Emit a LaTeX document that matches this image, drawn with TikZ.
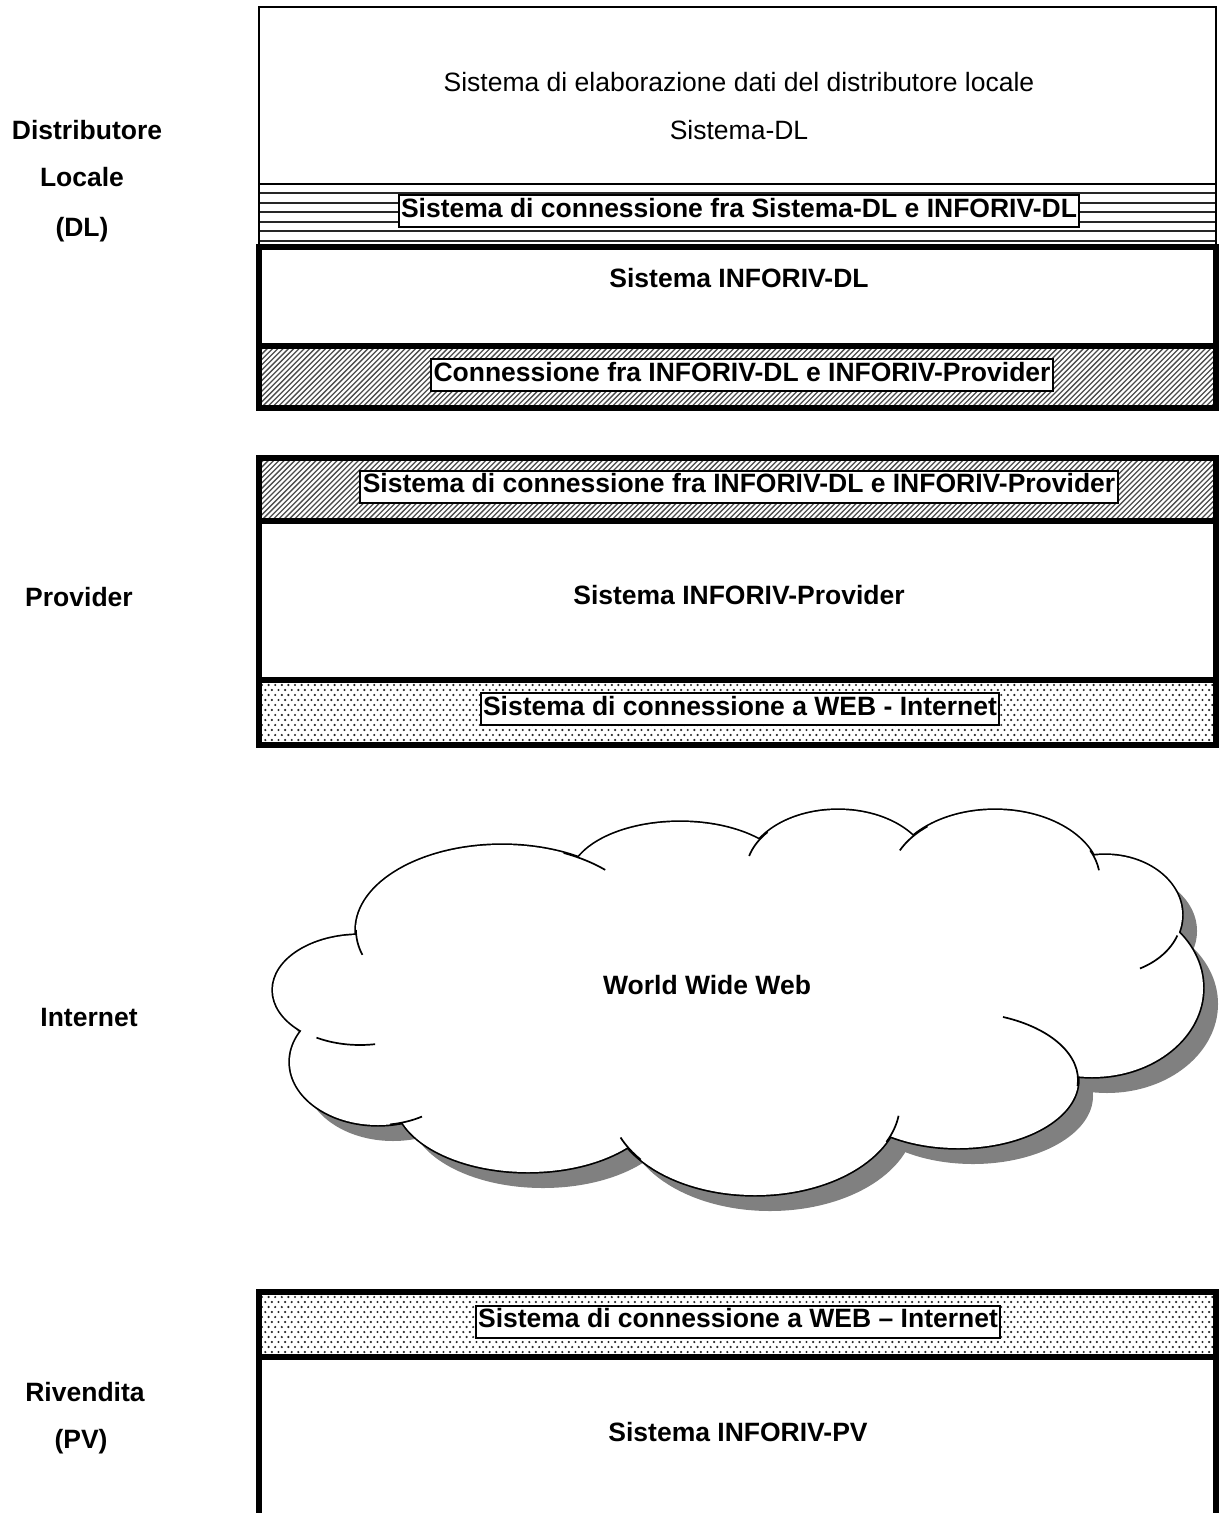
\documentclass[tikz,border=0pt]{standalone}
\usepackage{fontspec}
\setmainfont{Liberation Sans}
\definecolor{shd}{HTML}{808080}
\begin{document}
\begin{tikzpicture}[x=0.5pt,y=-0.5pt,
  fnt/.style={font=\fontsize{13.25pt}{16pt}\selectfont},
  bfnt/.style={font=\fontsize{13.25pt}{16pt}\selectfont\bfseries},
  lab/.style={bfnt, anchor=base, inner sep=0pt},
  plain/.style={fnt, anchor=base, inner sep=0pt},
  tag/.style={bfnt, draw, line width=1pt, fill=white, text height=9.8pt, text depth=3.45pt, inner ysep=1.375pt, inner xsep=1.2pt},
  thinbox/.style={draw, line width=1.1pt},
  thickbox/.style={draw, line width=2.6pt},
  hatchline/.style={line width=0.65pt, black!70},
  hline/.style={line width=1pt, black!85},
  dotc/.style={fill=black!85},
  cloudline/.style={draw=black, line width=1.7pt},
  tailline/.style={draw=black, line width=0.85pt},
]
\useasboundingbox (0,0) rectangle (1220,1513);

% ---------------- Distributore Locale ----------------
% horizontal-lines band
\begin{scope}
  \clip (259,184) rectangle (1216,247);
  \draw[hline] foreach \k in {1,...,6} { (259,184+\k*9.5) -- (1216,184+\k*9.5) };
\end{scope}
\draw[thinbox] (259,7) rectangle (1216,184);
\draw[thinbox] (259,184) rectangle (1216,247);

% hatched band 1
\begin{scope}
  \clip (259,346) rectangle (1216,408);
  \draw[hatchline] foreach \x in {190,195.3,...,1230} { (\x,410) -- ++(66,-66) };
\end{scope}
\draw[thickbox] (259,247) rectangle (1216,346);
\draw[thickbox] (259,346) rectangle (1216,408);

\node[plain] (sysdl1) at (739,91.5) {Sistema di elaborazione dati del distributore locale};
\node[plain] (sysdl2) at (739,139.5) {Sistema-DL};
\node[tag] (conn1) at (739,211) {Sistema di connessione fra Sistema-DL e INFORIV-DL};
\node[lab] (infdl) at (739,287.5) {Sistema INFORIV-DL};
\node[tag] (conn2) at (742,375) {Connessione fra INFORIV-DL e INFORIV-Provider};

% ---------------- Provider ----------------
\begin{scope}
  \clip (259,458) rectangle (1216,521);
  \draw[hatchline] foreach \x in {190,195.3,...,1230} { (\x,523) -- ++(66,-66) };
\end{scope}
\begin{scope}
  \clip (259,680) rectangle (1216,745);
  \fill[dotc] foreach \r in {0,...,11} { foreach \c in {0,...,145} { ({262+\c*6.6+mod(\r,2)*3.3},{685+\r*5}) circle[radius=0.6pt] } };
\end{scope}
\draw[thickbox] (259,458) rectangle (1216,521);
\draw[thickbox] (259,521) rectangle (1216,680);
\draw[thickbox] (259,680) rectangle (1216,745);

\node[tag] (conn3) at (739,486.5) {Sistema di connessione fra INFORIV-DL e INFORIV-Provider};
\node[lab] (infprov) at (739,604.5) {Sistema INFORIV-Provider};
\node[tag] (conn4) at (740,709) {Sistema di connessione a WEB - Internet};

% ---------------- Cloud ----------------
\def\ells{502/930/146/85, 680/880/110/58, 838/872/92/62, 995/880/105/70, 1105/915/77/60, 1092/988/111/89, 958/1080/120/68, 755/1103/145/92, 528/1098/133/74, 378/1062/88/63, 360/990/87/55}
\def\cpoly{(502,930) -- (680,880) -- (838,872) -- (995,880) -- (1105,915) -- (1092,988) -- (958,1080) -- (755,1103) -- (528,1098) -- (378,1062) -- (360,990) -- cycle}
\begin{scope}[shift={(15,16)}]
  \foreach \cx/\cy/\rx/\ry in \ells { \fill[shd] (\cx,\cy) ellipse [x radius=\rx, y radius=\ry]; }
  \fill[shd] \cpoly;
\end{scope}
\foreach \cx/\cy/\rx/\ry in \ells { \path[cloudline] (\cx,\cy) ellipse [x radius=\rx, y radius=\ry]; }
\foreach \cx/\cy/\rx/\ry in \ells { \fill[white] (\cx,\cy) ellipse [x radius=\rx, y radius=\ry]; }
\fill[white] \cpoly;
% inner tails of the cloud arcs
\foreach \cx/\cy/\rx/\ry/\ta/\tb in {
  502/930/146/85/-65/-45, 502/930/146/85/163/180,
  838/872/92/62/-165/-140,
  995/880/105/70/-155/-130, 995/880/105/70/-25/-8,
  1105/915/77/60/20/63,
  958/1080/120/68/-68/5,
  755/1103/145/92/142/158, 755/1103/145/92/8/25,
  378/1062/88/63/60/82,
  360/990/87/55/80/120} {
  \path[tailline] ({\cx+\rx*cos(\ta)},{\cy+\ry*sin(\ta)}) arc [start angle=\ta, end angle=\tb, x radius=\rx, y radius=\ry];
}
\node[lab] (www) at (707,994.5) {World Wide Web};

% ---------------- Rivendita ----------------
\begin{scope}
  \clip (259,1292) rectangle (1216,1357);
  \fill[dotc] foreach \r in {0,...,11} { foreach \c in {0,...,145} { ({262+\c*6.6+mod(\r,2)*3.3},{1297+\r*5}) circle[radius=0.6pt] } };
\end{scope}
\draw[thickbox] (259,1292) rectangle (1216,1357);
\draw[thickbox] (259,1530) -- (259,1357) -- (1216,1357) -- (1216,1530);

\node[tag] (conn5) at (738,1321.5) {Sistema di connessione a WEB – Internet};
\node[lab] (infpv) at (738,1441.5) {Sistema INFORIV-PV};

% ---------------- left labels ----------------
\node[lab] (l1) at (87,139.5) {Distributore};
\node[lab] (l2) at (82,186.5) {Locale};
\node[lab] (l3) at (82,236.5) {(DL)};
\node[lab] (l4) at (79,606.5) {Provider};
\node[lab] (l5) at (89,1026.5) {Internet};
\node[lab] (l6) at (85,1401.5) {Rivendita};
\node[lab] (l7) at (81,1448.5) {(PV)};
\end{tikzpicture}
\end{document}
